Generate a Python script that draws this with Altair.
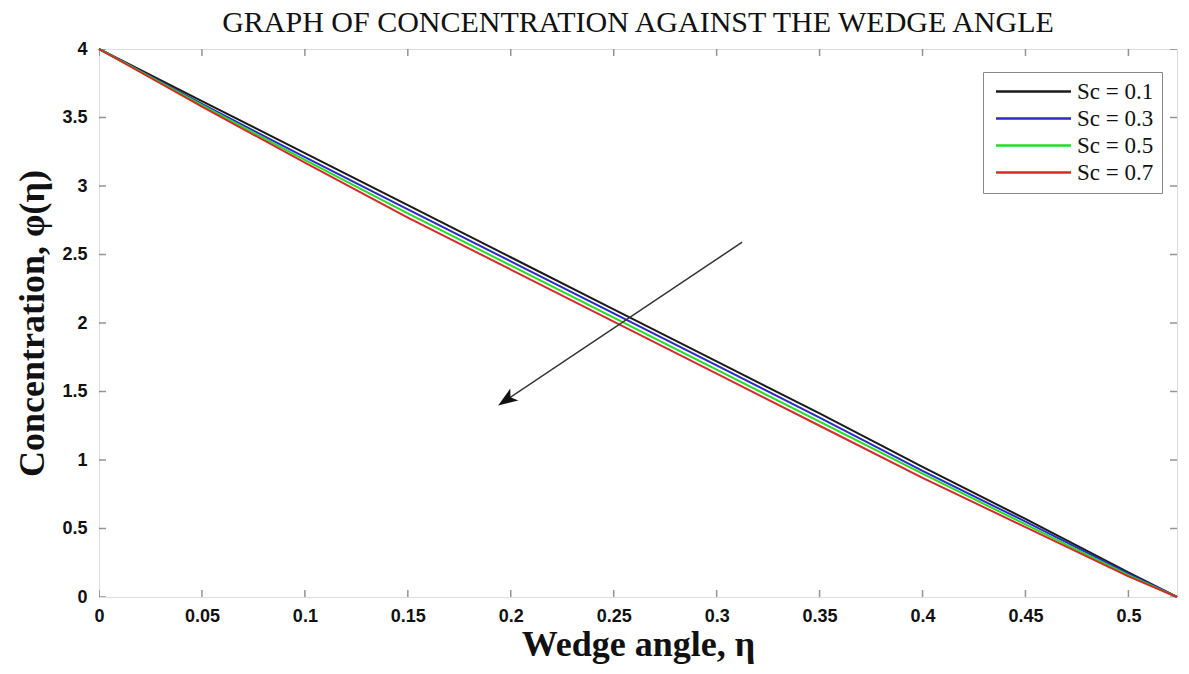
import altair as alt
import pandas as pd

# ---- data ----
eta = [0.0, 0.05, 0.1, 0.15, 0.2, 0.25, 0.3, 0.35, 0.4, 0.45, 0.5, 0.5236]
sc_01 = [4.0, 3.62, 3.24, 2.86, 2.48, 2.10, 1.72, 1.34, 0.95, 0.57, 0.18, 0.0]
sc_03 = [4.0, 3.60, 3.21, 2.83, 2.45, 2.07, 1.69, 1.31, 0.92, 0.55, 0.17, 0.0]
sc_05 = [4.0, 3.59, 3.19, 2.80, 2.42, 2.04, 1.66, 1.28, 0.90, 0.53, 0.16, 0.0]
sc_07 = [4.0, 3.58, 3.17, 2.77, 2.39, 2.01, 1.63, 1.25, 0.87, 0.51, 0.15, 0.0]
series_names = ["Sc = 0.1", "Sc = 0.3", "Sc = 0.5", "Sc = 0.7"]
series_colors = ["#1a1a1a", "#2a2ac8", "#22dd22", "#d42a2a"]

arrow_x = [0.3124, 0.198]
arrow_y = [2.59, 1.44]

x_ticks = [0.0, 0.05, 0.1, 0.15, 0.2, 0.25, 0.3, 0.35, 0.4, 0.45, 0.5]
y_ticks = [0.0, 0.5, 1.0, 1.5, 2.0, 2.5, 3.0, 3.5, 4.0]
X_MAX = 0.5236
Y_MAX = 4.0

rows = []
for name, vals in zip(series_names, [sc_01, sc_03, sc_05, sc_07]):
    for xv, yv in zip(eta, vals):
        rows.append({"eta": xv, "phi": yv, "series": name})
df = pd.DataFrame(rows)

xs = alt.Scale(domain=[0, X_MAX], nice=False, zero=False)
ys = alt.Scale(domain=[0, Y_MAX], nice=False, zero=False)

serif = "Liberation Serif"
sans = "Liberation Sans"

lines = alt.Chart(df).mark_line(strokeWidth=2).encode(
    x=alt.X("eta:Q", scale=xs,
            axis=alt.Axis(values=x_ticks, format=".2~f", title="Wedge angle, η",
                          labelFont=sans, labelFontWeight="bold", labelFontSize=18,
                          labelColor="#111", labelPadding=10, tickSize=0,
                          labelFlush=False,
                          domain=False, grid=False, titleFont=serif,
                          titleFontSize=36, titleFontWeight="bold",
                          titleColor="#111", titlePadding=2)),
    y=alt.Y("phi:Q", scale=ys,
            axis=alt.Axis(values=y_ticks, format=".1~f", title="Concentration, φ(η)",
                          labelFont=sans, labelFontWeight="bold", labelFontSize=18,
                          labelColor="#111", labelPadding=12, tickSize=0,
                          labelFlush=False,
                          domain=False, grid=False, titleFont=serif,
                          titleFontSize=36, titleFontWeight="bold",
                          titleColor="#111", titlePadding=10)),
    color=alt.Color("series:N",
                    scale=alt.Scale(domain=series_names, range=series_colors),
                    legend=alt.Legend(title=None, orient="none",
                                      legendX=884, legendY=23,
                                      symbolType="M-5,0L5,0", symbolSize=225,
                                      symbolStrokeWidth=2.5, symbolOffset=31,
                                      labelFont=serif, labelFontSize=23,
                                      labelColor="#111", labelOffset=32,
                                      rowPadding=3, padding=8,
                                      strokeColor="#888", fillColor="white",
                                      offset=0)),
    order=alt.Order("series:N", sort="descending"),
)

arrow_df = pd.DataFrame({"x": arrow_x, "y": arrow_y, "o": [0, 1]})
arrow_line = alt.Chart(arrow_df).mark_line(color="#333", strokeWidth=1.5).encode(
    x=alt.X("x:Q", scale=xs), y=alt.Y("y:Q", scale=ys), order="o:Q")
arrow_head = alt.Chart(arrow_df.iloc[[1]]).mark_point(
    shape="M0,-1L0.7,0.9L0,0.45L-0.7,0.9Z", filled=True, color="#111",
    size=420, angle=236, opacity=1).encode(
    x=alt.X("x:Q", scale=xs), y=alt.Y("y:Q", scale=ys))

# inward box ticks
xt = pd.DataFrame({"t": x_ticks})
yt = pd.DataFrame({"t": y_ticks})
tick_col = "#666"
xb = alt.Chart(xt).mark_tick(color=tick_col, size=14, thickness=1.5, orient="vertical", clip=True).encode(
    x=alt.X("t:Q", scale=xs), y=alt.datum(0, scale=ys))
xtp = alt.Chart(xt).mark_tick(color=tick_col, size=14, thickness=1.5, orient="vertical", clip=True).encode(
    x=alt.X("t:Q", scale=xs), y=alt.datum(Y_MAX, scale=ys))
yl = alt.Chart(yt).mark_tick(color=tick_col, size=14, thickness=1.5, orient="horizontal", clip=True).encode(
    y=alt.Y("t:Q", scale=ys), x=alt.datum(0, scale=xs))
yr = alt.Chart(yt).mark_tick(color=tick_col, size=14, thickness=1.5, orient="horizontal", clip=True).encode(
    y=alt.Y("t:Q", scale=ys), x=alt.datum(X_MAX, scale=xs))

chart = alt.layer(xb, xtp, yl, yr, lines, arrow_line, arrow_head).properties(
    width=1078, height=548,
    title=alt.Title("GRAPH OF CONCENTRATION AGAINST THE WEDGE ANGLE",
                    font=serif, fontSize=30, fontWeight="normal", color="#111",
                    anchor="middle", offset=2),
    autosize=alt.AutoSizeParams(type="none"),
    padding={"left": 99, "top": 49, "right": 12, "bottom": 77},
).configure_view(stroke="#888", strokeWidth=1.5).configure(background="white")

chart.save("out.html", embed_options={"renderer": "svg", "actions": False})
